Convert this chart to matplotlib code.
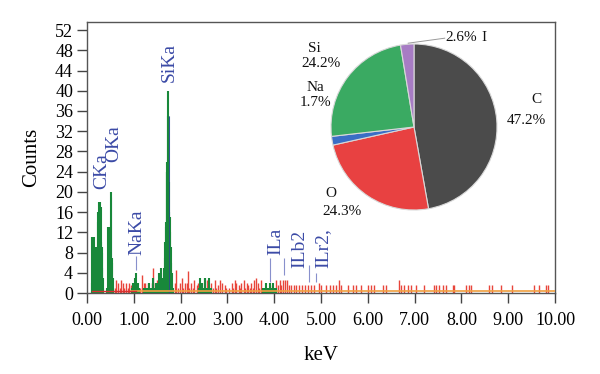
import matplotlib
matplotlib.use("Agg")
import matplotlib.pyplot as plt

plt.rcParams['font.family'] = ['Liberation Serif', 'DejaVu Serif']

# ---------------- data ----------------
# peak channels (green)
green_kev = [0.10, 0.11, 0.12, 0.13, 0.14, 0.15, 0.16, 0.17, 0.18, 0.19, 0.20, 0.21, 0.22,
             0.23, 0.24, 0.25, 0.26, 0.27, 0.28, 0.29, 0.30, 0.31, 0.32, 0.33, 0.34, 0.35,
             0.43, 0.45, 0.46, 0.47, 0.48, 0.49, 0.50, 0.51, 0.52, 0.53, 0.54, 0.55, 0.56,
             0.97, 0.98, 1.00, 1.02, 1.03, 1.04, 1.05, 1.06, 1.08, 1.10, 1.12,
             1.22, 1.26, 1.30, 1.32, 1.35, 1.38, 1.40, 1.42, 1.44, 1.46, 1.48, 1.50, 1.52,
             1.54, 1.56, 1.58, 1.60, 1.62, 1.63,
             1.64, 1.65, 1.66, 1.67, 1.68, 1.69, 1.70, 1.71, 1.72, 1.73, 1.74, 1.75, 1.76,
             1.77, 1.78, 1.79, 1.80, 1.81, 1.82, 1.83,
             2.40, 2.41, 2.43, 2.45, 2.46, 2.48, 2.50, 2.52, 2.53, 2.55, 2.58, 2.60, 2.62, 2.65,
             3.76, 3.80, 3.83, 3.86, 3.88, 3.92, 3.95, 3.97, 4.00, 4.04]
green_counts = [2, 11, 8, 6, 7, 5, 11, 9, 7, 8, 6, 9, 8,
                14, 16, 18, 14, 17, 18, 17, 10, 9, 8, 5, 3, 1,
                1, 13, 8, 13, 7, 7, 7, 20, 7, 7, 6, 3, 1,
                1, 2, 2, 3, 2, 4, 2, 2, 1, 2, 1,
                1, 1, 1, 2, 1, 1, 2, 3, 1, 1, 2, 1, 2,
                4, 2, 5, 3, 2, 3,
                4, 5, 7, 10, 13, 14, 24, 24, 26, 40, 35, 22, 16,
                15, 12, 9, 6, 4, 2, 1,
                1, 3, 1, 2, 2, 1, 1, 3, 3, 1, 1, 3, 1, 1,
                1, 1, 2, 1, 1, 2, 1, 2, 1, 1]

# background channels (red)
red_kev = [0.44, 0.60, 0.63, 0.66, 0.70, 0.73, 0.76, 0.80, 0.83, 0.87, 0.90, 0.94,
           1.14, 1.18, 1.21, 1.24, 1.27, 1.31, 1.34, 1.38, 1.41, 1.45, 1.49, 1.53, 1.56, 1.61,
           1.88, 1.91, 1.95, 1.98, 2.03, 2.06, 2.09, 2.13, 2.16, 2.19, 2.22, 2.26, 2.29, 2.34, 2.37,
           2.56, 2.59, 2.63, 2.66, 2.69, 2.73, 2.76, 2.79, 2.84, 2.89, 2.94, 2.98, 3.03, 3.09,
           3.13, 3.16, 3.19, 3.24, 3.27, 3.30, 3.35, 3.38, 3.41, 3.45, 3.48, 3.51, 3.54, 3.57,
           3.62, 3.65, 3.67, 3.71, 3.90, 4.04, 4.08, 4.12, 4.15, 4.19, 4.24, 4.27, 4.31, 4.36,
           4.42, 4.47, 4.54, 4.59, 4.65, 4.72, 4.79, 4.86, 4.95, 5.00, 5.11, 5.20, 5.25, 5.32,
           5.38, 5.43, 5.57, 5.68, 5.75, 5.86, 6.00, 6.07, 6.14, 6.32, 6.38, 6.66, 6.71, 6.78,
           6.85, 6.92, 7.03, 7.21, 7.42, 7.46, 7.53, 7.60, 7.67, 7.81, 7.85, 8.10, 8.17, 8.20,
           8.59, 8.65, 8.84, 9.09, 9.55, 9.66, 9.80, 9.86]
red_counts = [4, 1, 2.5, 2, 1, 2.5, 2, 1, 2, 1, 2, 1.5,
              1, 3.5, 2, 2, 1, 2, 1, 2, 5, 2, 2.5, 3, 4, 2,
              2, 4.5, 1, 2, 3, 1, 2, 2, 4.3, 1, 2, 1, 2.5, 1.5, 2,
              2.5, 2, 1, 2, 1, 2.5, 1, 1.5, 2.5, 2, 1.5, 1, 1, 2,
              1, 2.5, 2, 1.5, 1, 2, 2.5, 1, 2, 1.5, 1, 2, 1, 2.5,
              3, 2, 1, 2.5, 1.5, 2.5, 1.5, 2.5, 1.5, 2.5, 2.5, 2.5, 1.5, 1.5,
              1.5, 1.5, 1.5, 1.5, 1.5, 1.5, 1.5, 1.5, 2, 1.5, 1.5, 1.5, 1.5, 1.5,
              2.6, 1.5, 1.5, 1.5, 1.5, 1.5, 1.5, 1.5, 1.5, 1.5, 1.5, 2.6, 1.5, 1.5,
              1.5, 1.5, 1.5, 1.5, 1.5, 1.5, 1.5, 1.5, 1.5, 1.5, 1.5, 1.5, 1.5, 1.5,
              1.5, 1.5, 1.5, 1.5, 1.5, 1.5, 1.5, 1.5]

# peak labels
peak_labels = ['CKa', 'OKa', 'NaKa', 'SiKa', 'ILa', 'ILb2', 'ILr2,']
peak_label_kev = [0.31, 0.58, 1.07, 1.75, 4.03, 4.54, 5.05]
peak_label_y = [20.5, 26.0, 7.5, 41.7, 7.5, 4.9, 4.9]
# marker lines (keV, bottom, top)
marker_kev = [0.277, 0.51, 1.045, 1.755, 3.92, 4.20, 4.75, 4.90]
marker_lo = [0, 0, 4.5, 0, 2.2, 3.5, 2.2, 2.2]
marker_hi = [17, 19, 7.3, 35, 6.9, 6.9, 5.5, 3.9]

# pie composition
pie_elements = ['C', 'O', 'Na', 'Si', 'I']
pie_values = [47.2, 24.3, 1.7, 24.2, 2.6]
pie_colors = ['#4b4b4b', '#e84141', '#3a6ec6', '#3aaa62', '#a77cc4']

xticks = [0, 1, 2, 3, 4, 5, 6, 7, 8, 9, 10]
yticks = [0, 4, 8, 12, 16, 20, 24, 28, 32, 36, 40, 44, 48, 52]

# ---------------- figure ----------------
fig = plt.figure(figsize=(6.0, 3.74), dpi=100)
ax = fig.add_axes([87/600, 81/374, 468/600, 271/374])

ax.vlines(red_kev, 0, red_counts, colors='#e8453a', linewidth=1.0, zorder=2)
ax.vlines(green_kev, 0, green_counts, colors='#18883a', linewidth=1.5, zorder=3)
ax.plot([0.95, 10], [0.35, 0.35], color='#f0a040', linewidth=1.2, zorder=4)
ax.plot([0.1, 1.05], [0.3, 0.3], color='#d83030', linewidth=1.0, zorder=4)

ax.vlines(marker_kev, marker_lo, marker_hi, colors='#8890cc', linewidth=0.8, zorder=2.5)
ax.vlines([1.755], [0], [35], colors='#2a4a8a', linewidth=0.6, zorder=3.5)
for lab, xk, yk in zip(peak_labels, peak_label_kev, peak_label_y):
    ax.text(xk, yk, lab, rotation=90, ha='center', va='bottom', fontsize=14,
            color='#3b4aa6', zorder=6)

ax.set_xlim(0, 10)
ax.set_ylim(0, 53.6)
ax.set_xticks(xticks)
ax.set_xticklabels(['%.2f' % v for v in xticks], fontsize=13)
ax.set_yticks(yticks)
ax.set_yticklabels([str(v) for v in yticks], fontsize=13)
ax.tick_params(direction='out', length=7, width=1, color='#444444', pad=3)
ax.tick_params(axis='x', pad=7)
for s in ax.spines.values():
    s.set_color('#555555')
    s.set_linewidth(1.0)
ax.set_xlabel('keV', fontsize=15, labelpad=12)
ax.set_ylabel('Counts', fontsize=15, labelpad=10)

# ---------------- pie ----------------
pax = fig.add_axes([(414-83)/600, (374-127-83)/374, 166/600, 166/374])
pax.pie(pie_values, colors=pie_colors, startangle=90, counterclock=False,
        wedgeprops=dict(edgecolor='#d8d8d8', linewidth=0.8), radius=1.0)
pax.set_xlim(-1, 1)
pax.set_ylim(-1, 1)
pax.set_aspect('equal')
pax.axis('off')

kw = dict(fontsize=11, color='#111111', ha='center', va='center', clip_on=False)
pax.text(1.47, 0.33, pie_elements[0], **kw)
pax.text(1.35, 0.08, '%.1f%%' % pie_values[0], **kw)
pax.text(-1.0, -0.80, pie_elements[1], **kw)
pax.text(-0.87, -1.02, '%.1f%%' % pie_values[1], **kw)
pax.text(-1.19, 0.48, pie_elements[2], **kw)
pax.text(-1.19, 0.30, '%.1f%%' % pie_values[2], **kw)
pax.text(-1.20, 0.95, pie_elements[3], **kw)
pax.text(-1.12, 0.77, '%.1f%%' % pie_values[3], **kw)
pax.text(0.57, 1.08, '%.1f%%' % pie_values[4], **kw)
pax.text(0.84, 1.08, pie_elements[4], **kw)
pax.plot([-0.07, 0.37], [1.01, 1.07], color='#999999', linewidth=0.7, clip_on=False)

fig.savefig('out.png', dpi=100)
